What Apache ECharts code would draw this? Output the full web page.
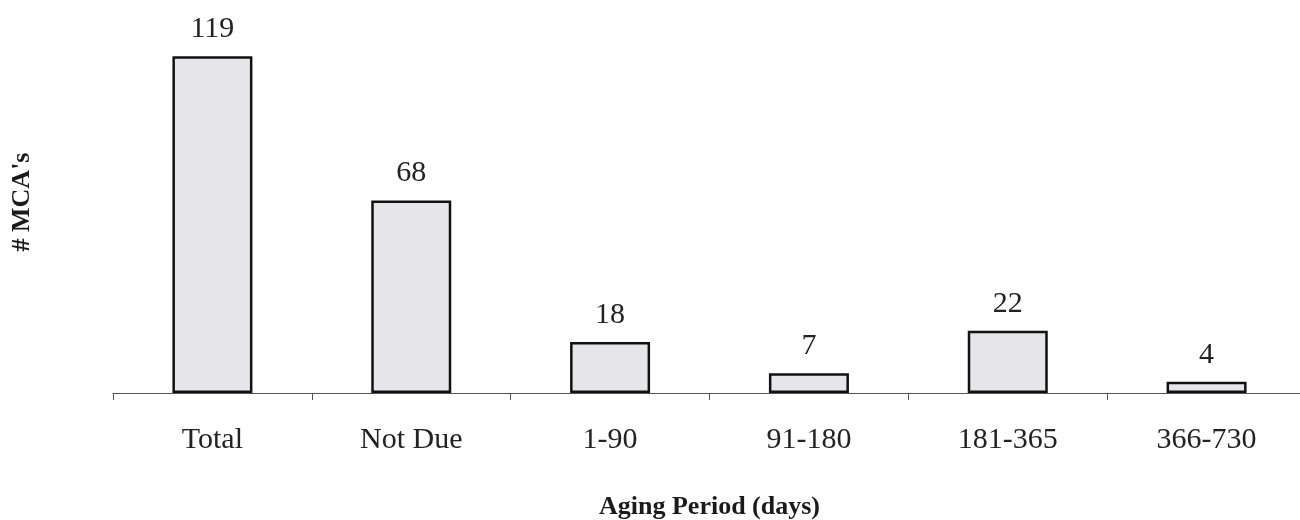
<!DOCTYPE html>
<html>
<head>
<meta charset="utf-8">
<script src="https://cdn.jsdelivr.net/npm/echarts@6/dist/echarts.min.js"></script>
<style>
  html, body { margin: 0; padding: 0; background: #fff; }
  #chart { width: 1300px; height: 520px; }
</style>
</head>
<body>
<div id="chart"></div>
<script>
// Aging of MCAs by period
const categories = ['Total', 'Not Due', '1-90', '91-180', '181-365', '366-730'];
const counts = [119, 68, 18, 7, 22, 4];

const serif = '"Liberation Serif", "DejaVu Serif", serif';

// The plot runs slightly past the right edge of the canvas,
// so the last category boundary tick sits just out of view.
const chart = echarts.init(document.getElementById('chart'));
chart.setOption({
  animation: false,
  backgroundColor: '#ffffff',
  grid: { left: 113, right: -6, top: 11, bottom: 127, outerBoundsMode: 'none', containLabel: false },
  xAxis: {
    type: 'category',
    data: categories,
    name: 'Aging Period (days)',
    nameLocation: 'middle',
    nameGap: 101,
    nameTextStyle: { fontFamily: serif, fontSize: 26, fontWeight: 'bold', color: '#1a1a1a' },
    axisLine: { lineStyle: { color: '#555', width: 1.2 } },
    axisTick: { show: true, length: 7, inside: false, lineStyle: { color: '#555' } },
    axisLabel: { fontFamily: serif, fontSize: 30, color: '#222', margin: 32 }
  },
  yAxis: {
    type: 'value',
    min: 0,
    max: 135,
    name: "# MCA's",
    nameLocation: 'middle',
    nameGap: 78,
    nameRotate: 90,
    nameTextStyle: { fontFamily: serif, fontSize: 26, fontWeight: 'bold', color: '#1a1a1a' },
    axisLine: { show: false },
    axisTick: { show: false },
    axisLabel: { show: false },
    splitLine: { show: false }
  },
  series: [{
    type: 'bar',
    data: counts,
    barWidth: 80,
    itemStyle: { color: '#e6e6e8', borderColor: '#111', borderWidth: 2.5 },
    label: {
      show: true,
      position: 'top',
      distance: 12,
      fontFamily: serif,
      fontSize: 30,
      color: '#222'
    }
  }]
});
</script>
</body>
</html>
